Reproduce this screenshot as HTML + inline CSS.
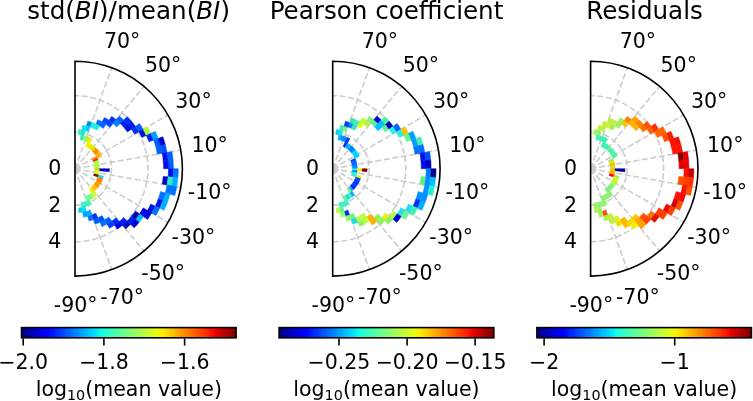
<!DOCTYPE html>
<html><head><meta charset="utf-8"><style>
html,body{margin:0;padding:0;background:#fff;width:753px;height:401px;overflow:hidden}
svg{display:block}
text{font-family:"DejaVu Sans","Liberation Sans",sans-serif;fill:#000}
</style></head><body>
<svg width="753" height="401" viewBox="0 0 753 401">
<defs><linearGradient id="jet" x1="0" x2="1" y1="0" y2="0">
<stop offset="0.0000" stop-color="#000080"/>
<stop offset="0.0312" stop-color="#0000a4"/>
<stop offset="0.0625" stop-color="#0000c8"/>
<stop offset="0.0938" stop-color="#0000ed"/>
<stop offset="0.1250" stop-color="#0001ff"/>
<stop offset="0.1562" stop-color="#0021ff"/>
<stop offset="0.1875" stop-color="#0041ff"/>
<stop offset="0.2188" stop-color="#0061ff"/>
<stop offset="0.2500" stop-color="#0081ff"/>
<stop offset="0.2812" stop-color="#00a1ff"/>
<stop offset="0.3125" stop-color="#00c1ff"/>
<stop offset="0.3438" stop-color="#00e1fb"/>
<stop offset="0.3750" stop-color="#16ffe1"/>
<stop offset="0.4062" stop-color="#30ffc7"/>
<stop offset="0.4375" stop-color="#49ffad"/>
<stop offset="0.4688" stop-color="#63ff94"/>
<stop offset="0.5000" stop-color="#7dff7a"/>
<stop offset="0.5312" stop-color="#97ff60"/>
<stop offset="0.5625" stop-color="#b1ff46"/>
<stop offset="0.5938" stop-color="#caff2c"/>
<stop offset="0.6250" stop-color="#e4ff13"/>
<stop offset="0.6562" stop-color="#feed00"/>
<stop offset="0.6875" stop-color="#ffd000"/>
<stop offset="0.7188" stop-color="#ffb200"/>
<stop offset="0.7500" stop-color="#ff9400"/>
<stop offset="0.7812" stop-color="#ff7700"/>
<stop offset="0.8125" stop-color="#ff5900"/>
<stop offset="0.8438" stop-color="#ff3b00"/>
<stop offset="0.8750" stop-color="#ff1e00"/>
<stop offset="0.9062" stop-color="#e80000"/>
<stop offset="0.9375" stop-color="#c40000"/>
<stop offset="0.9688" stop-color="#9f0000"/>
<stop offset="1.0000" stop-color="#800000"/>
</linearGradient></defs>
<g><path d="M75.00 205.20 A36.50 36.50 0 0 0 75.00 132.20" fill="none" stroke="#cccccc" stroke-width="1.6" stroke-dasharray="6.05 2.6"/><path d="M75.00 241.70 A73.00 73.00 0 0 0 75.00 95.70" fill="none" stroke="#cccccc" stroke-width="1.6" stroke-dasharray="6.05 2.6"/><line x1="75.00" y1="168.70" x2="111.73" y2="67.78" stroke="#cccccc" stroke-width="1.6" stroke-dasharray="6.05 2.6"/><line x1="75.00" y1="168.70" x2="144.04" y2="86.43" stroke="#cccccc" stroke-width="1.6" stroke-dasharray="6.05 2.6"/><line x1="75.00" y1="168.70" x2="168.01" y2="115.00" stroke="#cccccc" stroke-width="1.6" stroke-dasharray="6.05 2.6"/><line x1="75.00" y1="168.70" x2="180.77" y2="150.05" stroke="#cccccc" stroke-width="1.6" stroke-dasharray="6.05 2.6"/><line x1="75.00" y1="168.70" x2="180.77" y2="187.35" stroke="#cccccc" stroke-width="1.6" stroke-dasharray="6.05 2.6"/><line x1="75.00" y1="168.70" x2="168.01" y2="222.40" stroke="#cccccc" stroke-width="1.6" stroke-dasharray="6.05 2.6"/><line x1="75.00" y1="168.70" x2="144.04" y2="250.97" stroke="#cccccc" stroke-width="1.6" stroke-dasharray="6.05 2.6"/><line x1="75.00" y1="168.70" x2="111.73" y2="269.62" stroke="#cccccc" stroke-width="1.6" stroke-dasharray="6.05 2.6"/></g>
<g><path d="M80.98 134.78L81.83 129.94A39.36 39.36 0 0 0 78.43 129.49L78.00 134.39A34.44 34.44 0 0 1 80.98 134.78Z" fill="#40f0a0" stroke="#40f0a0" stroke-width="0.5"/><path d="M82.64 140.19L83.91 135.43A34.44 34.44 0 0 0 80.98 134.78L80.13 139.63A29.52 29.52 0 0 1 82.64 140.19Z" fill="#30e8c0" stroke="#30e8c0" stroke-width="0.5"/><path d="M83.91 135.43L85.19 130.68A39.36 39.36 0 0 0 81.83 129.94L80.98 134.78A34.44 34.44 0 0 1 83.91 135.43Z" fill="#20e0e0" stroke="#20e0e0" stroke-width="0.5"/><path d="M85.19 130.68L86.46 125.93A44.28 44.28 0 0 0 82.69 125.09L81.83 129.94A39.36 39.36 0 0 1 85.19 130.68Z" fill="#10e0f0" stroke="#10e0f0" stroke-width="0.5"/><path d="M85.10 140.96L86.78 136.34A34.44 34.44 0 0 0 83.91 135.43L82.64 140.19A29.52 29.52 0 0 1 85.10 140.96Z" fill="#70ff80" stroke="#70ff80" stroke-width="0.5"/><path d="M90.14 127.09L91.83 122.47A49.20 49.20 0 0 0 87.73 121.18L86.46 125.93A44.28 44.28 0 0 1 90.14 127.09Z" fill="#0080ff" stroke="#0080ff" stroke-width="0.5"/><path d="M88.46 131.71L90.14 127.09A44.28 44.28 0 0 0 86.46 125.93L85.19 130.68A39.36 39.36 0 0 1 88.46 131.71Z" fill="#10d0f0" stroke="#10d0f0" stroke-width="0.5"/><path d="M87.48 141.95L89.55 137.49A34.44 34.44 0 0 0 86.78 136.34L85.10 140.96A29.52 29.52 0 0 1 87.48 141.95Z" fill="#b0f040" stroke="#b0f040" stroke-width="0.5"/><path d="M93.71 128.57L95.79 124.11A49.20 49.20 0 0 0 91.83 122.47L90.14 127.09A44.28 44.28 0 0 1 93.71 128.57Z" fill="#20f0e0" stroke="#20f0e0" stroke-width="0.5"/><path d="M87.30 147.40L89.76 143.13A29.52 29.52 0 0 0 87.48 141.95L85.40 146.40A24.60 24.60 0 0 1 87.30 147.40Z" fill="#f0f000" stroke="#f0f000" stroke-width="0.5"/><path d="M89.76 143.13L92.22 138.87A34.44 34.44 0 0 0 89.55 137.49L87.48 141.95A29.52 29.52 0 0 1 89.76 143.13Z" fill="#f0f000" stroke="#f0f000" stroke-width="0.5"/><path d="M99.60 126.09L102.06 121.83A54.12 54.12 0 0 0 97.87 119.65L95.79 124.11A49.20 49.20 0 0 1 99.60 126.09Z" fill="#0070ff" stroke="#0070ff" stroke-width="0.5"/><path d="M97.14 130.35L99.60 126.09A49.20 49.20 0 0 0 95.79 124.11L93.71 128.57A44.28 44.28 0 0 1 97.14 130.35Z" fill="#20f0e0" stroke="#20f0e0" stroke-width="0.5"/><path d="M89.11 148.55L91.93 144.52A29.52 29.52 0 0 0 89.76 143.13L87.30 147.40A24.60 24.60 0 0 1 89.11 148.55Z" fill="#f0f000" stroke="#f0f000" stroke-width="0.5"/><path d="M106.04 124.37L108.86 120.34A59.04 59.04 0 0 0 104.52 117.57L102.06 121.83A54.12 54.12 0 0 1 106.04 124.37Z" fill="#0040ff" stroke="#0040ff" stroke-width="0.5"/><path d="M103.22 128.40L106.04 124.37A54.12 54.12 0 0 0 102.06 121.83L99.60 126.09A49.20 49.20 0 0 1 103.22 128.40Z" fill="#0060ff" stroke="#0060ff" stroke-width="0.5"/><path d="M90.81 149.86L93.98 146.09A29.52 29.52 0 0 0 91.93 144.52L89.11 148.55A24.60 24.60 0 0 1 90.81 149.86Z" fill="#e8f000" stroke="#e8f000" stroke-width="0.5"/><path d="M112.95 123.47L116.11 119.70A63.96 63.96 0 0 0 111.69 116.31L108.86 120.34A59.04 59.04 0 0 1 112.95 123.47Z" fill="#0030f0" stroke="#0030f0" stroke-width="0.5"/><path d="M109.79 127.24L112.95 123.47A59.04 59.04 0 0 0 108.86 120.34L106.04 124.37A54.12 54.12 0 0 1 109.79 127.24Z" fill="#0040ff" stroke="#0040ff" stroke-width="0.5"/><path d="M92.39 151.31L95.87 147.83A29.52 29.52 0 0 0 93.98 146.09L90.81 149.86A24.60 24.60 0 0 1 92.39 151.31Z" fill="#d0f000" stroke="#d0f000" stroke-width="0.5"/><path d="M116.75 126.95L120.23 123.47A63.96 63.96 0 0 0 116.11 119.70L112.95 123.47A59.04 59.04 0 0 1 116.75 126.95Z" fill="#0080ff" stroke="#0080ff" stroke-width="0.5"/><path d="M120.23 123.47L123.71 119.99A68.88 68.88 0 0 0 119.28 115.93L116.11 119.70A63.96 63.96 0 0 1 120.23 123.47Z" fill="#0060ff" stroke="#0060ff" stroke-width="0.5"/><path d="M93.84 152.89L97.61 149.72A29.52 29.52 0 0 0 95.87 147.83L92.39 151.31A24.60 24.60 0 0 1 93.84 152.89Z" fill="#ff9000" stroke="#ff9000" stroke-width="0.5"/><path d="M124.00 127.59L127.77 124.42A68.88 68.88 0 0 0 123.71 119.99L120.23 123.47A63.96 63.96 0 0 1 124.00 127.59Z" fill="#0020f0" stroke="#0020f0" stroke-width="0.5"/><path d="M127.77 124.42L131.53 121.26A73.80 73.80 0 0 0 127.18 116.52L123.71 119.99A68.88 68.88 0 0 1 127.77 124.42Z" fill="#0030f0" stroke="#0030f0" stroke-width="0.5"/><path d="M95.15 154.59L99.18 151.77A29.52 29.52 0 0 0 97.61 149.72L93.84 152.89A24.60 24.60 0 0 1 95.15 154.59Z" fill="#ff8000" stroke="#ff8000" stroke-width="0.5"/><path d="M127.39 132.01L131.42 129.19A68.88 68.88 0 0 0 127.77 124.42L124.00 127.59A63.96 63.96 0 0 1 127.39 132.01Z" fill="#0010e0" stroke="#0010e0" stroke-width="0.5"/><path d="M131.42 129.19L135.45 126.37A73.80 73.80 0 0 0 131.53 121.26L127.77 124.42A68.88 68.88 0 0 1 131.42 129.19Z" fill="#0020f0" stroke="#0020f0" stroke-width="0.5"/><path d="M96.30 156.40L100.57 153.94A29.52 29.52 0 0 0 99.18 151.77L95.15 154.59A24.60 24.60 0 0 1 96.30 156.40Z" fill="#ffb000" stroke="#ffb000" stroke-width="0.5"/><path d="M134.65 134.26L138.91 131.80A73.80 73.80 0 0 0 135.45 126.37L131.42 129.19A68.88 68.88 0 0 1 134.65 134.26Z" fill="#0030f0" stroke="#0030f0" stroke-width="0.5"/><path d="M138.91 131.80L143.17 129.34A78.72 78.72 0 0 0 139.48 123.55L135.45 126.37A73.80 73.80 0 0 1 138.91 131.80Z" fill="#0060ff" stroke="#0060ff" stroke-width="0.5"/><path d="M97.30 158.30L101.75 156.22A29.52 29.52 0 0 0 100.57 153.94L96.30 156.40A24.60 24.60 0 0 1 97.30 158.30Z" fill="#ffb000" stroke="#ffb000" stroke-width="0.5"/><path d="M92.84 160.38L97.30 158.30A24.60 24.60 0 0 0 96.30 156.40L92.04 158.86A19.68 19.68 0 0 1 92.84 160.38Z" fill="#ff8000" stroke="#ff8000" stroke-width="0.5"/><path d="M141.89 137.51L146.34 135.43A78.72 78.72 0 0 0 143.17 129.34L138.91 131.80A73.80 73.80 0 0 1 141.89 137.51Z" fill="#0010e0" stroke="#0010e0" stroke-width="0.5"/><path d="M146.34 135.43L150.80 133.35A83.64 83.64 0 0 0 147.43 126.88L143.17 129.34A78.72 78.72 0 0 1 146.34 135.43Z" fill="#b0ff30" stroke="#b0ff30" stroke-width="0.5"/><path d="M93.49 161.97L98.12 160.29A24.60 24.60 0 0 0 97.30 158.30L92.84 160.38A19.68 19.68 0 0 1 93.49 161.97Z" fill="#ff2000" stroke="#ff2000" stroke-width="0.5"/><path d="M148.97 141.78L153.60 140.09A83.64 83.64 0 0 0 150.80 133.35L146.34 135.43A78.72 78.72 0 0 1 148.97 141.78Z" fill="#0020f0" stroke="#0020f0" stroke-width="0.5"/><path d="M153.60 140.09L158.22 138.41A88.56 88.56 0 0 0 155.26 131.27L150.80 133.35A83.64 83.64 0 0 1 153.60 140.09Z" fill="#00a0ff" stroke="#00a0ff" stroke-width="0.5"/><path d="M94.01 163.61L98.76 162.33A24.60 24.60 0 0 0 98.12 160.29L93.49 161.97A19.68 19.68 0 0 1 94.01 163.61Z" fill="#a0ff50" stroke="#a0ff50" stroke-width="0.5"/><path d="M155.79 147.05L160.54 145.78A88.56 88.56 0 0 0 158.22 138.41L153.60 140.09A83.64 83.64 0 0 1 155.79 147.05Z" fill="#0060ff" stroke="#0060ff" stroke-width="0.5"/><path d="M160.54 145.78L165.29 144.51A93.48 93.48 0 0 0 162.84 136.73L158.22 138.41A88.56 88.56 0 0 1 160.54 145.78Z" fill="#0000d0" stroke="#0000d0" stroke-width="0.5"/><path d="M94.38 165.28L99.23 164.43A24.60 24.60 0 0 0 98.76 162.33L94.01 163.61A19.68 19.68 0 0 1 94.38 165.28Z" fill="#a0ff50" stroke="#a0ff50" stroke-width="0.5"/><path d="M162.21 153.32L167.06 152.47A93.48 93.48 0 0 0 165.29 144.51L160.54 145.78A88.56 88.56 0 0 1 162.21 153.32Z" fill="#0050ff" stroke="#0050ff" stroke-width="0.5"/><path d="M157.37 154.18L162.21 153.32A88.56 88.56 0 0 0 160.54 145.78L155.79 147.05A83.64 83.64 0 0 1 157.37 154.18Z" fill="#0060ff" stroke="#0060ff" stroke-width="0.5"/><path d="M94.61 166.98L99.51 166.56A24.60 24.60 0 0 0 99.23 164.43L94.38 165.28A19.68 19.68 0 0 1 94.61 166.98Z" fill="#a8ff48" stroke="#a8ff48" stroke-width="0.5"/><path d="M163.22 160.98L168.12 160.55A93.48 93.48 0 0 0 167.06 152.47L162.21 153.32A88.56 88.56 0 0 1 163.22 160.98Z" fill="#0010e8" stroke="#0010e8" stroke-width="0.5"/><path d="M168.12 160.55L173.03 160.12A98.40 98.40 0 0 0 171.91 151.61L167.06 152.47A93.48 93.48 0 0 1 168.12 160.55Z" fill="#0060ff" stroke="#0060ff" stroke-width="0.5"/><path d="M94.68 168.70L99.60 168.70A24.60 24.60 0 0 0 99.51 166.56L94.61 166.98A19.68 19.68 0 0 1 94.68 168.70Z" fill="#a8ff48" stroke="#a8ff48" stroke-width="0.5"/><path d="M168.48 168.70L173.40 168.70A98.40 98.40 0 0 0 173.03 160.12L168.12 160.55A93.48 93.48 0 0 1 168.48 168.70Z" fill="#0060ff" stroke="#0060ff" stroke-width="0.5"/><path d="M163.56 168.70L168.48 168.70A93.48 93.48 0 0 0 168.12 160.55L163.22 160.98A88.56 88.56 0 0 1 163.56 168.70Z" fill="#0010e8" stroke="#0010e8" stroke-width="0.5"/><path d="M94.61 170.42L99.51 170.84A24.60 24.60 0 0 0 99.60 168.70L94.68 168.70A19.68 19.68 0 0 1 94.61 170.42Z" fill="#ffc000" stroke="#ffc000" stroke-width="0.5"/><path d="M99.51 170.84L104.41 171.27A29.52 29.52 0 0 0 104.52 168.70L99.60 168.70A24.60 24.60 0 0 1 99.51 170.84Z" fill="#0000c8" stroke="#0000c8" stroke-width="0.5"/><path d="M104.41 171.27L109.31 171.70A34.44 34.44 0 0 0 109.44 168.70L104.52 168.70A29.52 29.52 0 0 1 104.41 171.27Z" fill="#0000c8" stroke="#0000c8" stroke-width="0.5"/><path d="M168.12 176.85L173.03 177.28A98.40 98.40 0 0 0 173.40 168.70L168.48 168.70A93.48 93.48 0 0 1 168.12 176.85Z" fill="#0010e8" stroke="#0010e8" stroke-width="0.5"/><path d="M173.03 177.28L177.93 177.70A103.32 103.32 0 0 0 178.32 168.70L173.40 168.70A98.40 98.40 0 0 1 173.03 177.28Z" fill="#0070ff" stroke="#0070ff" stroke-width="0.5"/><path d="M94.38 172.12L99.23 172.97A24.60 24.60 0 0 0 99.51 170.84L94.61 170.42A19.68 19.68 0 0 1 94.38 172.12Z" fill="#d0ff20" stroke="#d0ff20" stroke-width="0.5"/><path d="M162.21 184.08L167.06 184.93A93.48 93.48 0 0 0 168.12 176.85L163.22 176.42A88.56 88.56 0 0 1 162.21 184.08Z" fill="#0000d0" stroke="#0000d0" stroke-width="0.5"/><path d="M167.06 184.93L171.91 185.79A98.40 98.40 0 0 0 173.03 177.28L168.12 176.85A93.48 93.48 0 0 1 167.06 184.93Z" fill="#30f0c0" stroke="#30f0c0" stroke-width="0.5"/><path d="M171.91 185.79L176.75 186.64A103.32 103.32 0 0 0 177.93 177.70L173.03 177.28A98.40 98.40 0 0 1 171.91 185.79Z" fill="#00b0ff" stroke="#00b0ff" stroke-width="0.5"/><path d="M94.01 173.79L98.76 175.07A24.60 24.60 0 0 0 99.23 172.97L94.38 172.12A19.68 19.68 0 0 1 94.01 173.79Z" fill="#d0ff20" stroke="#d0ff20" stroke-width="0.5"/><path d="M165.29 192.89L170.05 194.17A98.40 98.40 0 0 0 171.91 185.79L167.06 184.93A93.48 93.48 0 0 1 165.29 192.89Z" fill="#0070ff" stroke="#0070ff" stroke-width="0.5"/><path d="M170.05 194.17L174.80 195.44A103.32 103.32 0 0 0 176.75 186.64L171.91 185.79A98.40 98.40 0 0 1 170.05 194.17Z" fill="#0070ff" stroke="#0070ff" stroke-width="0.5"/><path d="M93.49 175.43L98.12 177.11A24.60 24.60 0 0 0 98.76 175.07L94.01 173.79A19.68 19.68 0 0 1 93.49 175.43Z" fill="#800000" stroke="#800000" stroke-width="0.5"/><path d="M98.12 177.11L102.74 178.80A29.52 29.52 0 0 0 103.51 176.34L98.76 175.07A24.60 24.60 0 0 1 98.12 177.11Z" fill="#00e0ff" stroke="#00e0ff" stroke-width="0.5"/><path d="M162.84 200.67L167.47 202.35A98.40 98.40 0 0 0 170.05 194.17L165.29 192.89A93.48 93.48 0 0 1 162.84 200.67Z" fill="#00b0ff" stroke="#00b0ff" stroke-width="0.5"/><path d="M158.22 198.99L162.84 200.67A93.48 93.48 0 0 0 165.29 192.89L160.54 191.62A88.56 88.56 0 0 1 158.22 198.99Z" fill="#0070ff" stroke="#0070ff" stroke-width="0.5"/><path d="M97.30 179.10L101.75 181.18A29.52 29.52 0 0 0 102.74 178.80L98.12 177.11A24.60 24.60 0 0 1 97.30 179.10Z" fill="#ff8000" stroke="#ff8000" stroke-width="0.5"/><path d="M155.26 206.13L159.72 208.21A93.48 93.48 0 0 0 162.84 200.67L158.22 198.99A88.56 88.56 0 0 1 155.26 206.13Z" fill="#0010e8" stroke="#0010e8" stroke-width="0.5"/><path d="M159.72 208.21L164.18 210.29A98.40 98.40 0 0 0 167.47 202.35L162.84 200.67A93.48 93.48 0 0 1 159.72 208.21Z" fill="#00b0ff" stroke="#00b0ff" stroke-width="0.5"/><path d="M96.30 181.00L100.57 183.46A29.52 29.52 0 0 0 101.75 181.18L97.30 179.10A24.60 24.60 0 0 1 96.30 181.00Z" fill="#ff8000" stroke="#ff8000" stroke-width="0.5"/><path d="M147.43 210.52L151.70 212.98A88.56 88.56 0 0 0 155.26 206.13L150.80 204.05A83.64 83.64 0 0 1 147.43 210.52Z" fill="#0010e0" stroke="#0010e0" stroke-width="0.5"/><path d="M151.70 212.98L155.96 215.44A93.48 93.48 0 0 0 159.72 208.21L155.26 206.13A88.56 88.56 0 0 1 151.70 212.98Z" fill="#0070ff" stroke="#0070ff" stroke-width="0.5"/><path d="M95.15 182.81L99.18 185.63A29.52 29.52 0 0 0 100.57 183.46L96.30 181.00A24.60 24.60 0 0 1 95.15 182.81Z" fill="#ffa000" stroke="#ffa000" stroke-width="0.5"/><path d="M139.48 213.85L143.51 216.67A83.64 83.64 0 0 0 147.43 210.52L143.17 208.06A78.72 78.72 0 0 1 139.48 213.85Z" fill="#0000f0" stroke="#0000f0" stroke-width="0.5"/><path d="M143.51 216.67L147.54 219.50A88.56 88.56 0 0 0 151.70 212.98L147.43 210.52A83.64 83.64 0 0 1 143.51 216.67Z" fill="#0008d8" stroke="#0008d8" stroke-width="0.5"/><path d="M93.84 184.51L97.61 187.68A29.52 29.52 0 0 0 99.18 185.63L95.15 182.81A24.60 24.60 0 0 1 93.84 184.51Z" fill="#ff9000" stroke="#ff9000" stroke-width="0.5"/><path d="M135.30 219.30L139.07 222.46A83.64 83.64 0 0 0 143.51 216.67L139.48 213.85A78.72 78.72 0 0 1 135.30 219.30Z" fill="#00c0ff" stroke="#00c0ff" stroke-width="0.5"/><path d="M131.53 216.14L135.30 219.30A78.72 78.72 0 0 0 139.48 213.85L135.45 211.03A73.80 73.80 0 0 1 131.53 216.14Z" fill="#0008b0" stroke="#0008b0" stroke-width="0.5"/><path d="M92.39 186.09L95.87 189.57A29.52 29.52 0 0 0 97.61 187.68L93.84 184.51A24.60 24.60 0 0 1 92.39 186.09Z" fill="#ffc000" stroke="#ffc000" stroke-width="0.5"/><path d="M127.18 220.88L130.66 224.36A78.72 78.72 0 0 0 135.30 219.30L131.53 216.14A73.80 73.80 0 0 1 127.18 220.88Z" fill="#0020f0" stroke="#0020f0" stroke-width="0.5"/><path d="M130.66 224.36L134.14 227.84A83.64 83.64 0 0 0 139.07 222.46L135.30 219.30A78.72 78.72 0 0 1 130.66 224.36Z" fill="#0000d0" stroke="#0000d0" stroke-width="0.5"/><path d="M90.81 187.54L93.98 191.31A29.52 29.52 0 0 0 95.87 189.57L92.39 186.09A24.60 24.60 0 0 1 90.81 187.54Z" fill="#ffc000" stroke="#ffc000" stroke-width="0.5"/><path d="M119.28 221.47L122.44 225.23A73.80 73.80 0 0 0 127.18 220.88L123.71 217.41A68.88 68.88 0 0 1 119.28 221.47Z" fill="#0020f0" stroke="#0020f0" stroke-width="0.5"/><path d="M122.44 225.23L125.60 229.00A78.72 78.72 0 0 0 130.66 224.36L127.18 220.88A73.80 73.80 0 0 1 122.44 225.23Z" fill="#0010c0" stroke="#0010c0" stroke-width="0.5"/><path d="M89.11 188.85L91.93 192.88A29.52 29.52 0 0 0 93.98 191.31L90.81 187.54A24.60 24.60 0 0 1 89.11 188.85Z" fill="#f0f000" stroke="#f0f000" stroke-width="0.5"/><path d="M91.93 192.88L94.75 196.91A34.44 34.44 0 0 0 97.14 195.08L93.98 191.31A29.52 29.52 0 0 1 91.93 192.88Z" fill="#d0ff20" stroke="#d0ff20" stroke-width="0.5"/><path d="M111.69 221.09L114.51 225.12A68.88 68.88 0 0 0 119.28 221.47L116.11 217.70A63.96 63.96 0 0 1 111.69 221.09Z" fill="#0030f0" stroke="#0030f0" stroke-width="0.5"/><path d="M114.51 225.12L117.33 229.15A73.80 73.80 0 0 0 122.44 225.23L119.28 221.47A68.88 68.88 0 0 1 114.51 225.12Z" fill="#0000f0" stroke="#0000f0" stroke-width="0.5"/><path d="M89.76 194.27L92.22 198.53A34.44 34.44 0 0 0 94.75 196.91L91.93 192.88A29.52 29.52 0 0 1 89.76 194.27Z" fill="#a0ff50" stroke="#a0ff50" stroke-width="0.5"/><path d="M104.52 219.83L106.98 224.09A63.96 63.96 0 0 0 111.69 221.09L108.86 217.06A59.04 59.04 0 0 1 104.52 219.83Z" fill="#0060ff" stroke="#0060ff" stroke-width="0.5"/><path d="M106.98 224.09L109.44 228.35A68.88 68.88 0 0 0 114.51 225.12L111.69 221.09A63.96 63.96 0 0 1 106.98 224.09Z" fill="#0040ff" stroke="#0040ff" stroke-width="0.5"/><path d="M87.48 195.45L89.55 199.91A34.44 34.44 0 0 0 92.22 198.53L89.76 194.27A29.52 29.52 0 0 1 87.48 195.45Z" fill="#70ff80" stroke="#70ff80" stroke-width="0.5"/><path d="M97.87 217.75L99.95 222.21A59.04 59.04 0 0 0 104.52 219.83L102.06 215.57A54.12 54.12 0 0 1 97.87 217.75Z" fill="#0050ff" stroke="#0050ff" stroke-width="0.5"/><path d="M99.95 222.21L102.03 226.67A63.96 63.96 0 0 0 106.98 224.09L104.52 219.83A59.04 59.04 0 0 1 99.95 222.21Z" fill="#0070ff" stroke="#0070ff" stroke-width="0.5"/><path d="M85.10 196.44L86.78 201.06A34.44 34.44 0 0 0 89.55 199.91L87.48 195.45A29.52 29.52 0 0 1 85.10 196.44Z" fill="#70ff80" stroke="#70ff80" stroke-width="0.5"/><path d="M86.78 201.06L88.46 205.69A39.36 39.36 0 0 0 91.63 204.37L89.55 199.91A34.44 34.44 0 0 1 86.78 201.06Z" fill="#50f0a0" stroke="#50f0a0" stroke-width="0.5"/><path d="M91.83 214.93L93.51 219.56A54.12 54.12 0 0 0 97.87 217.75L95.79 213.29A49.20 49.20 0 0 1 91.83 214.93Z" fill="#0030f0" stroke="#0030f0" stroke-width="0.5"/><path d="M93.51 219.56L95.19 224.18A59.04 59.04 0 0 0 99.95 222.21L97.87 217.75A54.12 54.12 0 0 1 93.51 219.56Z" fill="#0060ff" stroke="#0060ff" stroke-width="0.5"/><path d="M83.91 201.97L85.19 206.72A39.36 39.36 0 0 0 88.46 205.69L86.78 201.06A34.44 34.44 0 0 1 83.91 201.97Z" fill="#40f0c0" stroke="#40f0c0" stroke-width="0.5"/><path d="M86.46 211.47L87.73 216.22A49.20 49.20 0 0 0 91.83 214.93L90.14 210.31A44.28 44.28 0 0 1 86.46 211.47Z" fill="#00b0ff" stroke="#00b0ff" stroke-width="0.5"/><path d="M87.73 216.22L89.01 220.98A54.12 54.12 0 0 0 93.51 219.56L91.83 214.93A49.20 49.20 0 0 1 87.73 216.22Z" fill="#0070ff" stroke="#0070ff" stroke-width="0.5"/><path d="M80.98 202.62L81.83 207.46A39.36 39.36 0 0 0 85.19 206.72L83.91 201.97A34.44 34.44 0 0 1 80.98 202.62Z" fill="#40f0c0" stroke="#40f0c0" stroke-width="0.5"/><path d="M81.83 207.46L82.69 212.31A44.28 44.28 0 0 0 86.46 211.47L85.19 206.72A39.36 39.36 0 0 1 81.83 207.46Z" fill="#00e0ff" stroke="#00e0ff" stroke-width="0.5"/><path d="M82.69 212.31L83.54 217.15A49.20 49.20 0 0 0 87.73 216.22L86.46 211.47A44.28 44.28 0 0 1 82.69 212.31Z" fill="#00a0ff" stroke="#00a0ff" stroke-width="0.5"/><path d="M78.43 207.91L78.86 212.81A44.28 44.28 0 0 0 82.69 212.31L81.83 207.46A39.36 39.36 0 0 1 78.43 207.91Z" fill="#10d0f0" stroke="#10d0f0" stroke-width="0.5"/></g>
<path d="M75.00 61.30 A107.40 107.40 0 0 1 75.00 276.10 Z" fill="none" stroke="#000" stroke-width="1.6"/>
<text x="122.21" y="47.93" text-anchor="middle" font-size="20.5">70°</text>
<text x="163.12" y="71.55" text-anchor="middle" font-size="20.5">50°</text>
<text x="193.48" y="107.73" text-anchor="middle" font-size="20.5">30°</text>
<text x="209.63" y="152.11" text-anchor="middle" font-size="20.5">10°</text>
<text x="209.63" y="199.35" text-anchor="middle" font-size="20.5">-10°</text>
<text x="193.48" y="243.73" text-anchor="middle" font-size="20.5">-30°</text>
<text x="163.12" y="279.91" text-anchor="middle" font-size="20.5">-50°</text>
<text x="122.21" y="303.53" text-anchor="middle" font-size="20.5">-70°</text>
<text x="75.70" y="311.73" text-anchor="middle" font-size="20.5">-90°</text>
<text x="54.80" y="175.10" text-anchor="middle" font-size="20.5">0</text>
<text x="54.80" y="211.60" text-anchor="middle" font-size="20.5">2</text>
<text x="54.80" y="248.10" text-anchor="middle" font-size="20.5">4</text>
<text x="128.60" y="18.5" text-anchor="middle" font-size="24.6">std(<tspan font-style="oblique">BI</tspan>)/mean(<tspan font-style="oblique">BI</tspan>)</text>
<g><path d="M332.70 205.20 A36.50 36.50 0 0 0 332.70 132.20" fill="none" stroke="#cccccc" stroke-width="1.6" stroke-dasharray="6.05 2.6"/><path d="M332.70 241.70 A73.00 73.00 0 0 0 332.70 95.70" fill="none" stroke="#cccccc" stroke-width="1.6" stroke-dasharray="6.05 2.6"/><line x1="332.70" y1="168.70" x2="369.43" y2="67.78" stroke="#cccccc" stroke-width="1.6" stroke-dasharray="6.05 2.6"/><line x1="332.70" y1="168.70" x2="401.74" y2="86.43" stroke="#cccccc" stroke-width="1.6" stroke-dasharray="6.05 2.6"/><line x1="332.70" y1="168.70" x2="425.71" y2="115.00" stroke="#cccccc" stroke-width="1.6" stroke-dasharray="6.05 2.6"/><line x1="332.70" y1="168.70" x2="438.47" y2="150.05" stroke="#cccccc" stroke-width="1.6" stroke-dasharray="6.05 2.6"/><line x1="332.70" y1="168.70" x2="438.47" y2="187.35" stroke="#cccccc" stroke-width="1.6" stroke-dasharray="6.05 2.6"/><line x1="332.70" y1="168.70" x2="425.71" y2="222.40" stroke="#cccccc" stroke-width="1.6" stroke-dasharray="6.05 2.6"/><line x1="332.70" y1="168.70" x2="401.74" y2="250.97" stroke="#cccccc" stroke-width="1.6" stroke-dasharray="6.05 2.6"/><line x1="332.70" y1="168.70" x2="369.43" y2="269.62" stroke="#cccccc" stroke-width="1.6" stroke-dasharray="6.05 2.6"/></g>
<g><path d="M338.68 134.78L339.53 129.94A39.36 39.36 0 0 0 336.13 129.49L335.70 134.39A34.44 34.44 0 0 1 338.68 134.78Z" fill="#10d0f0" stroke="#10d0f0" stroke-width="0.5"/><path d="M340.34 140.19L341.61 135.43A34.44 34.44 0 0 0 338.68 134.78L337.83 139.63A29.52 29.52 0 0 1 340.34 140.19Z" fill="#10b0f8" stroke="#10b0f8" stroke-width="0.5"/><path d="M341.61 135.43L342.89 130.68A39.36 39.36 0 0 0 339.53 129.94L338.68 134.78A34.44 34.44 0 0 1 341.61 135.43Z" fill="#20e0e0" stroke="#20e0e0" stroke-width="0.5"/><path d="M342.89 130.68L344.16 125.93A44.28 44.28 0 0 0 340.39 125.09L339.53 129.94A39.36 39.36 0 0 1 342.89 130.68Z" fill="#30f0c0" stroke="#30f0c0" stroke-width="0.5"/><path d="M342.80 140.96L344.48 136.34A34.44 34.44 0 0 0 341.61 135.43L340.34 140.19A29.52 29.52 0 0 1 342.80 140.96Z" fill="#0090ff" stroke="#0090ff" stroke-width="0.5"/><path d="M346.16 131.71L347.84 127.09A44.28 44.28 0 0 0 344.16 125.93L342.89 130.68A39.36 39.36 0 0 1 346.16 131.71Z" fill="#80f080" stroke="#80f080" stroke-width="0.5"/><path d="M347.84 127.09L349.53 122.47A49.20 49.20 0 0 0 345.43 121.18L344.16 125.93A44.28 44.28 0 0 1 347.84 127.09Z" fill="#0040f0" stroke="#0040f0" stroke-width="0.5"/><path d="M345.18 141.95L347.25 137.49A34.44 34.44 0 0 0 344.48 136.34L342.80 140.96A29.52 29.52 0 0 1 345.18 141.95Z" fill="#0090ff" stroke="#0090ff" stroke-width="0.5"/><path d="M351.41 128.57L353.49 124.11A49.20 49.20 0 0 0 349.53 122.47L347.84 127.09A44.28 44.28 0 0 1 351.41 128.57Z" fill="#0080ff" stroke="#0080ff" stroke-width="0.5"/><path d="M353.49 124.11L355.57 119.65A54.12 54.12 0 0 0 351.21 117.84L349.53 122.47A49.20 49.20 0 0 1 353.49 124.11Z" fill="#40e0b0" stroke="#40e0b0" stroke-width="0.5"/><path d="M345.00 147.40L347.46 143.13A29.52 29.52 0 0 0 345.18 141.95L343.10 146.40A24.60 24.60 0 0 1 345.00 147.40Z" fill="#0020f0" stroke="#0020f0" stroke-width="0.5"/><path d="M347.46 143.13L349.92 138.87A34.44 34.44 0 0 0 347.25 137.49L345.18 141.95A29.52 29.52 0 0 1 347.46 143.13Z" fill="#0030f0" stroke="#0030f0" stroke-width="0.5"/><path d="M354.84 130.35L357.30 126.09A49.20 49.20 0 0 0 353.49 124.11L351.41 128.57A44.28 44.28 0 0 1 354.84 130.35Z" fill="#40e0b0" stroke="#40e0b0" stroke-width="0.5"/><path d="M357.30 126.09L359.76 121.83A54.12 54.12 0 0 0 355.57 119.65L353.49 124.11A49.20 49.20 0 0 1 357.30 126.09Z" fill="#30f0c0" stroke="#30f0c0" stroke-width="0.5"/><path d="M346.81 148.55L349.63 144.52A29.52 29.52 0 0 0 347.46 143.13L345.00 147.40A24.60 24.60 0 0 1 346.81 148.55Z" fill="#00b0ff" stroke="#00b0ff" stroke-width="0.5"/><path d="M360.92 128.40L363.74 124.37A54.12 54.12 0 0 0 359.76 121.83L357.30 126.09A49.20 49.20 0 0 1 360.92 128.40Z" fill="#e0ff20" stroke="#e0ff20" stroke-width="0.5"/><path d="M363.74 124.37L366.56 120.34A59.04 59.04 0 0 0 362.22 117.57L359.76 121.83A54.12 54.12 0 0 1 363.74 124.37Z" fill="#c0ff30" stroke="#c0ff30" stroke-width="0.5"/><path d="M348.51 149.86L351.68 146.09A29.52 29.52 0 0 0 349.63 144.52L346.81 148.55A24.60 24.60 0 0 1 348.51 149.86Z" fill="#00b0ff" stroke="#00b0ff" stroke-width="0.5"/><path d="M367.49 127.24L370.65 123.47A59.04 59.04 0 0 0 366.56 120.34L363.74 124.37A54.12 54.12 0 0 1 367.49 127.24Z" fill="#c0f040" stroke="#c0f040" stroke-width="0.5"/><path d="M370.65 123.47L373.81 119.70A63.96 63.96 0 0 0 369.39 116.31L366.56 120.34A59.04 59.04 0 0 1 370.65 123.47Z" fill="#80f080" stroke="#80f080" stroke-width="0.5"/><path d="M350.09 151.31L353.57 147.83A29.52 29.52 0 0 0 351.68 146.09L348.51 149.86A24.60 24.60 0 0 1 350.09 151.31Z" fill="#0080ff" stroke="#0080ff" stroke-width="0.5"/><path d="M374.45 126.95L377.93 123.47A63.96 63.96 0 0 0 373.81 119.70L370.65 123.47A59.04 59.04 0 0 1 374.45 126.95Z" fill="#60f0a0" stroke="#60f0a0" stroke-width="0.5"/><path d="M377.93 123.47L381.41 119.99A68.88 68.88 0 0 0 376.98 115.93L373.81 119.70A63.96 63.96 0 0 1 377.93 123.47Z" fill="#0010d0" stroke="#0010d0" stroke-width="0.5"/><path d="M351.54 152.89L355.31 149.72A29.52 29.52 0 0 0 353.57 147.83L350.09 151.31A24.60 24.60 0 0 1 351.54 152.89Z" fill="#0080ff" stroke="#0080ff" stroke-width="0.5"/><path d="M377.93 130.75L381.70 127.59A63.96 63.96 0 0 0 377.93 123.47L374.45 126.95A59.04 59.04 0 0 1 377.93 130.75Z" fill="#00c0ff" stroke="#00c0ff" stroke-width="0.5"/><path d="M381.70 127.59L385.47 124.42A68.88 68.88 0 0 0 381.41 119.99L377.93 123.47A63.96 63.96 0 0 1 381.70 127.59Z" fill="#00c0ff" stroke="#00c0ff" stroke-width="0.5"/><path d="M385.47 124.42L389.23 121.26A73.80 73.80 0 0 0 384.88 116.52L381.41 119.99A68.88 68.88 0 0 1 385.47 124.42Z" fill="#50f0a0" stroke="#50f0a0" stroke-width="0.5"/><path d="M352.85 154.59L356.88 151.77A29.52 29.52 0 0 0 355.31 149.72L351.54 152.89A24.60 24.60 0 0 1 352.85 154.59Z" fill="#00d0ff" stroke="#00d0ff" stroke-width="0.5"/><path d="M385.09 132.01L389.12 129.19A68.88 68.88 0 0 0 385.47 124.42L381.70 127.59A63.96 63.96 0 0 1 385.09 132.01Z" fill="#60f090" stroke="#60f090" stroke-width="0.5"/><path d="M389.12 129.19L393.15 126.37A73.80 73.80 0 0 0 389.23 121.26L385.47 124.42A68.88 68.88 0 0 1 389.12 129.19Z" fill="#0000c0" stroke="#0000c0" stroke-width="0.5"/><path d="M354.00 156.40L358.27 153.94A29.52 29.52 0 0 0 356.88 151.77L352.85 154.59A24.60 24.60 0 0 1 354.00 156.40Z" fill="#00d0ff" stroke="#00d0ff" stroke-width="0.5"/><path d="M392.35 134.26L396.61 131.80A73.80 73.80 0 0 0 393.15 126.37L389.12 129.19A68.88 68.88 0 0 1 392.35 134.26Z" fill="#20f0e0" stroke="#20f0e0" stroke-width="0.5"/><path d="M396.61 131.80L400.87 129.34A78.72 78.72 0 0 0 397.18 123.55L393.15 126.37A73.80 73.80 0 0 1 396.61 131.80Z" fill="#0060ff" stroke="#0060ff" stroke-width="0.5"/><path d="M355.00 158.30L359.45 156.22A29.52 29.52 0 0 0 358.27 153.94L354.00 156.40A24.60 24.60 0 0 1 355.00 158.30Z" fill="#00d0ff" stroke="#00d0ff" stroke-width="0.5"/><path d="M399.59 137.51L404.04 135.43A78.72 78.72 0 0 0 400.87 129.34L396.61 131.80A73.80 73.80 0 0 1 399.59 137.51Z" fill="#20f0e0" stroke="#20f0e0" stroke-width="0.5"/><path d="M404.04 135.43L408.50 133.35A83.64 83.64 0 0 0 405.13 126.88L400.87 129.34A78.72 78.72 0 0 1 404.04 135.43Z" fill="#ffc000" stroke="#ffc000" stroke-width="0.5"/><path d="M351.19 161.97L355.82 160.29A24.60 24.60 0 0 0 355.00 158.30L350.54 160.38A19.68 19.68 0 0 1 351.19 161.97Z" fill="#0040ff" stroke="#0040ff" stroke-width="0.5"/><path d="M406.67 141.78L411.30 140.09A83.64 83.64 0 0 0 408.50 133.35L404.04 135.43A78.72 78.72 0 0 1 406.67 141.78Z" fill="#70f090" stroke="#70f090" stroke-width="0.5"/><path d="M411.30 140.09L415.92 138.41A88.56 88.56 0 0 0 412.96 131.27L408.50 133.35A83.64 83.64 0 0 1 411.30 140.09Z" fill="#00a0ff" stroke="#00a0ff" stroke-width="0.5"/><path d="M351.71 163.61L356.46 162.33A24.60 24.60 0 0 0 355.82 160.29L351.19 161.97A19.68 19.68 0 0 1 351.71 163.61Z" fill="#0060ff" stroke="#0060ff" stroke-width="0.5"/><path d="M413.49 147.05L418.24 145.78A88.56 88.56 0 0 0 415.92 138.41L411.30 140.09A83.64 83.64 0 0 1 413.49 147.05Z" fill="#00a0ff" stroke="#00a0ff" stroke-width="0.5"/><path d="M418.24 145.78L422.99 144.51A93.48 93.48 0 0 0 420.54 136.73L415.92 138.41A88.56 88.56 0 0 1 418.24 145.78Z" fill="#40f0b0" stroke="#40f0b0" stroke-width="0.5"/><path d="M352.08 165.28L356.93 164.43A24.60 24.60 0 0 0 356.46 162.33L351.71 163.61A19.68 19.68 0 0 1 352.08 165.28Z" fill="#0060ff" stroke="#0060ff" stroke-width="0.5"/><path d="M415.07 154.18L419.91 153.32A88.56 88.56 0 0 0 418.24 145.78L413.49 147.05A83.64 83.64 0 0 1 415.07 154.18Z" fill="#0070ff" stroke="#0070ff" stroke-width="0.5"/><path d="M419.91 153.32L424.76 152.47A93.48 93.48 0 0 0 422.99 144.51L418.24 145.78A88.56 88.56 0 0 1 419.91 153.32Z" fill="#0070ff" stroke="#0070ff" stroke-width="0.5"/><path d="M352.31 166.98L357.21 166.56A24.60 24.60 0 0 0 356.93 164.43L352.08 165.28A19.68 19.68 0 0 1 352.31 166.98Z" fill="#0080ff" stroke="#0080ff" stroke-width="0.5"/><path d="M420.92 160.98L425.82 160.55A93.48 93.48 0 0 0 424.76 152.47L419.91 153.32A88.56 88.56 0 0 1 420.92 160.98Z" fill="#0010e8" stroke="#0010e8" stroke-width="0.5"/><path d="M425.82 160.55L430.73 160.12A98.40 98.40 0 0 0 429.61 151.61L424.76 152.47A93.48 93.48 0 0 1 425.82 160.55Z" fill="#0050ff" stroke="#0050ff" stroke-width="0.5"/><path d="M352.38 168.70L357.30 168.70A24.60 24.60 0 0 0 357.21 166.56L352.31 166.98A19.68 19.68 0 0 1 352.38 168.70Z" fill="#0080ff" stroke="#0080ff" stroke-width="0.5"/><path d="M421.26 168.70L426.18 168.70A93.48 93.48 0 0 0 425.82 160.55L420.92 160.98A88.56 88.56 0 0 1 421.26 168.70Z" fill="#0010e8" stroke="#0010e8" stroke-width="0.5"/><path d="M426.18 168.70L431.10 168.70A98.40 98.40 0 0 0 430.73 160.12L425.82 160.55A93.48 93.48 0 0 1 426.18 168.70Z" fill="#0000c8" stroke="#0000c8" stroke-width="0.5"/><path d="M352.31 170.42L357.21 170.84A24.60 24.60 0 0 0 357.30 168.70L352.38 168.70A19.68 19.68 0 0 1 352.31 170.42Z" fill="#20f0e0" stroke="#20f0e0" stroke-width="0.5"/><path d="M357.21 170.84L362.11 171.27A29.52 29.52 0 0 0 362.22 168.70L357.30 168.70A24.60 24.60 0 0 1 357.21 170.84Z" fill="#f0f000" stroke="#f0f000" stroke-width="0.5"/><path d="M362.11 171.27L367.01 171.70A34.44 34.44 0 0 0 367.14 168.70L362.22 168.70A29.52 29.52 0 0 1 362.11 171.27Z" fill="#800000" stroke="#800000" stroke-width="0.5"/><path d="M425.82 176.85L430.73 177.28A98.40 98.40 0 0 0 431.10 168.70L426.18 168.70A93.48 93.48 0 0 1 425.82 176.85Z" fill="#0080ff" stroke="#0080ff" stroke-width="0.5"/><path d="M430.73 177.28L435.63 177.70A103.32 103.32 0 0 0 436.02 168.70L431.10 168.70A98.40 98.40 0 0 1 430.73 177.28Z" fill="#000090" stroke="#000090" stroke-width="0.5"/><path d="M352.08 172.12L356.93 172.97A24.60 24.60 0 0 0 357.21 170.84L352.31 170.42A19.68 19.68 0 0 1 352.08 172.12Z" fill="#0080ff" stroke="#0080ff" stroke-width="0.5"/><path d="M419.91 184.08L424.76 184.93A93.48 93.48 0 0 0 425.82 176.85L420.92 176.42A88.56 88.56 0 0 1 419.91 184.08Z" fill="#60f080" stroke="#60f080" stroke-width="0.5"/><path d="M424.76 184.93L429.61 185.79A98.40 98.40 0 0 0 430.73 177.28L425.82 176.85A93.48 93.48 0 0 1 424.76 184.93Z" fill="#0090ff" stroke="#0090ff" stroke-width="0.5"/><path d="M429.61 185.79L434.45 186.64A103.32 103.32 0 0 0 435.63 177.70L430.73 177.28A98.40 98.40 0 0 1 429.61 185.79Z" fill="#00c0ff" stroke="#00c0ff" stroke-width="0.5"/><path d="M351.71 173.79L356.46 175.07A24.60 24.60 0 0 0 356.93 172.97L352.08 172.12A19.68 19.68 0 0 1 351.71 173.79Z" fill="#30f0d0" stroke="#30f0d0" stroke-width="0.5"/><path d="M422.99 192.89L427.75 194.17A98.40 98.40 0 0 0 429.61 185.79L424.76 184.93A93.48 93.48 0 0 1 422.99 192.89Z" fill="#0090ff" stroke="#0090ff" stroke-width="0.5"/><path d="M427.75 194.17L432.50 195.44A103.32 103.32 0 0 0 434.45 186.64L429.61 185.79A98.40 98.40 0 0 1 427.75 194.17Z" fill="#20f0d0" stroke="#20f0d0" stroke-width="0.5"/><path d="M351.19 175.43L355.82 177.11A24.60 24.60 0 0 0 356.46 175.07L351.71 173.79A19.68 19.68 0 0 1 351.19 175.43Z" fill="#30f0d0" stroke="#30f0d0" stroke-width="0.5"/><path d="M355.82 177.11L360.44 178.80A29.52 29.52 0 0 0 361.21 176.34L356.46 175.07A24.60 24.60 0 0 1 355.82 177.11Z" fill="#f0f000" stroke="#f0f000" stroke-width="0.5"/><path d="M415.92 198.99L420.54 200.67A93.48 93.48 0 0 0 422.99 192.89L418.24 191.62A88.56 88.56 0 0 1 415.92 198.99Z" fill="#0090ff" stroke="#0090ff" stroke-width="0.5"/><path d="M420.54 200.67L425.17 202.35A98.40 98.40 0 0 0 427.75 194.17L422.99 192.89A93.48 93.48 0 0 1 420.54 200.67Z" fill="#0090ff" stroke="#0090ff" stroke-width="0.5"/><path d="M355.00 179.10L359.45 181.18A29.52 29.52 0 0 0 360.44 178.80L355.82 177.11A24.60 24.60 0 0 1 355.00 179.10Z" fill="#0040ff" stroke="#0040ff" stroke-width="0.5"/><path d="M412.96 206.13L417.42 208.21A93.48 93.48 0 0 0 420.54 200.67L415.92 198.99A88.56 88.56 0 0 1 412.96 206.13Z" fill="#0030f0" stroke="#0030f0" stroke-width="0.5"/><path d="M417.42 208.21L421.88 210.29A98.40 98.40 0 0 0 425.17 202.35L420.54 200.67A93.48 93.48 0 0 1 417.42 208.21Z" fill="#00b0ff" stroke="#00b0ff" stroke-width="0.5"/><path d="M354.00 181.00L358.27 183.46A29.52 29.52 0 0 0 359.45 181.18L355.00 179.10A24.60 24.60 0 0 1 354.00 181.00Z" fill="#0040ff" stroke="#0040ff" stroke-width="0.5"/><path d="M405.13 210.52L409.40 212.98A88.56 88.56 0 0 0 412.96 206.13L408.50 204.05A83.64 83.64 0 0 1 405.13 210.52Z" fill="#20e0f0" stroke="#20e0f0" stroke-width="0.5"/><path d="M409.40 212.98L413.66 215.44A93.48 93.48 0 0 0 417.42 208.21L412.96 206.13A88.56 88.56 0 0 1 409.40 212.98Z" fill="#40f0b0" stroke="#40f0b0" stroke-width="0.5"/><path d="M352.85 182.81L356.88 185.63A29.52 29.52 0 0 0 358.27 183.46L354.00 181.00A24.60 24.60 0 0 1 352.85 182.81Z" fill="#0030f0" stroke="#0030f0" stroke-width="0.5"/><path d="M397.18 213.85L401.21 216.67A83.64 83.64 0 0 0 405.13 210.52L400.87 208.06A78.72 78.72 0 0 1 397.18 213.85Z" fill="#20e0f0" stroke="#20e0f0" stroke-width="0.5"/><path d="M401.21 216.67L405.24 219.50A88.56 88.56 0 0 0 409.40 212.98L405.13 210.52A83.64 83.64 0 0 1 401.21 216.67Z" fill="#70f090" stroke="#70f090" stroke-width="0.5"/><path d="M351.54 184.51L355.31 187.68A29.52 29.52 0 0 0 356.88 185.63L352.85 182.81A24.60 24.60 0 0 1 351.54 184.51Z" fill="#0040ff" stroke="#0040ff" stroke-width="0.5"/><path d="M389.23 216.14L393.00 219.30A78.72 78.72 0 0 0 397.18 213.85L393.15 211.03A73.80 73.80 0 0 1 389.23 216.14Z" fill="#b0ff50" stroke="#b0ff50" stroke-width="0.5"/><path d="M393.00 219.30L396.77 222.46A83.64 83.64 0 0 0 401.21 216.67L397.18 213.85A78.72 78.72 0 0 1 393.00 219.30Z" fill="#0000d0" stroke="#0000d0" stroke-width="0.5"/><path d="M350.09 186.09L353.57 189.57A29.52 29.52 0 0 0 355.31 187.68L351.54 184.51A24.60 24.60 0 0 1 350.09 186.09Z" fill="#0010f0" stroke="#0010f0" stroke-width="0.5"/><path d="M381.41 217.41L384.88 220.88A73.80 73.80 0 0 0 389.23 216.14L385.47 212.98A68.88 68.88 0 0 1 381.41 217.41Z" fill="#e0f020" stroke="#e0f020" stroke-width="0.5"/><path d="M384.88 220.88L388.36 224.36A78.72 78.72 0 0 0 393.00 219.30L389.23 216.14A73.80 73.80 0 0 1 384.88 220.88Z" fill="#90f060" stroke="#90f060" stroke-width="0.5"/><path d="M348.51 187.54L351.68 191.31A29.52 29.52 0 0 0 353.57 189.57L350.09 186.09A24.60 24.60 0 0 1 348.51 187.54Z" fill="#00b0ff" stroke="#00b0ff" stroke-width="0.5"/><path d="M373.81 217.70L376.98 221.47A68.88 68.88 0 0 0 381.41 217.41L377.93 213.93A63.96 63.96 0 0 1 373.81 217.70Z" fill="#90f060" stroke="#90f060" stroke-width="0.5"/><path d="M376.98 221.47L380.14 225.23A73.80 73.80 0 0 0 384.88 220.88L381.41 217.41A68.88 68.88 0 0 1 376.98 221.47Z" fill="#90f060" stroke="#90f060" stroke-width="0.5"/><path d="M346.81 188.85L349.63 192.88A29.52 29.52 0 0 0 351.68 191.31L348.51 187.54A24.60 24.60 0 0 1 346.81 188.85Z" fill="#80f080" stroke="#80f080" stroke-width="0.5"/><path d="M349.63 192.88L352.45 196.91A34.44 34.44 0 0 0 354.84 195.08L351.68 191.31A29.52 29.52 0 0 1 349.63 192.88Z" fill="#00b0ff" stroke="#00b0ff" stroke-width="0.5"/><path d="M366.56 217.06L369.39 221.09A63.96 63.96 0 0 0 373.81 217.70L370.65 213.93A59.04 59.04 0 0 1 366.56 217.06Z" fill="#ffb000" stroke="#ffb000" stroke-width="0.5"/><path d="M369.39 221.09L372.21 225.12A68.88 68.88 0 0 0 376.98 221.47L373.81 217.70A63.96 63.96 0 0 1 369.39 221.09Z" fill="#ffb000" stroke="#ffb000" stroke-width="0.5"/><path d="M347.46 194.27L349.92 198.53A34.44 34.44 0 0 0 352.45 196.91L349.63 192.88A29.52 29.52 0 0 1 347.46 194.27Z" fill="#40f0c0" stroke="#40f0c0" stroke-width="0.5"/><path d="M359.76 215.57L362.22 219.83A59.04 59.04 0 0 0 366.56 217.06L363.74 213.03A54.12 54.12 0 0 1 359.76 215.57Z" fill="#b0ff40" stroke="#b0ff40" stroke-width="0.5"/><path d="M362.22 219.83L364.68 224.09A63.96 63.96 0 0 0 369.39 221.09L366.56 217.06A59.04 59.04 0 0 1 362.22 219.83Z" fill="#c0ff40" stroke="#c0ff40" stroke-width="0.5"/><path d="M345.18 195.45L347.25 199.91A34.44 34.44 0 0 0 349.92 198.53L347.46 194.27A29.52 29.52 0 0 1 345.18 195.45Z" fill="#10e0f0" stroke="#10e0f0" stroke-width="0.5"/><path d="M355.57 217.75L357.65 222.21A59.04 59.04 0 0 0 362.22 219.83L359.76 215.57A54.12 54.12 0 0 1 355.57 217.75Z" fill="#c0ff40" stroke="#c0ff40" stroke-width="0.5"/><path d="M357.65 222.21L359.73 226.67A63.96 63.96 0 0 0 364.68 224.09L362.22 219.83A59.04 59.04 0 0 1 357.65 222.21Z" fill="#90f070" stroke="#90f070" stroke-width="0.5"/><path d="M342.80 196.44L344.48 201.06A34.44 34.44 0 0 0 347.25 199.91L345.18 195.45A29.52 29.52 0 0 1 342.80 196.44Z" fill="#70f090" stroke="#70f090" stroke-width="0.5"/><path d="M344.48 201.06L346.16 205.69A39.36 39.36 0 0 0 349.33 204.37L347.25 199.91A34.44 34.44 0 0 1 344.48 201.06Z" fill="#40f0c0" stroke="#40f0c0" stroke-width="0.5"/><path d="M349.53 214.93L351.21 219.56A54.12 54.12 0 0 0 355.57 217.75L353.49 213.29A49.20 49.20 0 0 1 349.53 214.93Z" fill="#70f090" stroke="#70f090" stroke-width="0.5"/><path d="M351.21 219.56L352.89 224.18A59.04 59.04 0 0 0 357.65 222.21L355.57 217.75A54.12 54.12 0 0 1 351.21 219.56Z" fill="#20e0d0" stroke="#20e0d0" stroke-width="0.5"/><path d="M341.61 201.97L342.89 206.72A39.36 39.36 0 0 0 346.16 205.69L344.48 201.06A34.44 34.44 0 0 1 341.61 201.97Z" fill="#40f0c0" stroke="#40f0c0" stroke-width="0.5"/><path d="M344.16 211.47L345.43 216.22A49.20 49.20 0 0 0 349.53 214.93L347.84 210.31A44.28 44.28 0 0 1 344.16 211.47Z" fill="#0030f0" stroke="#0030f0" stroke-width="0.5"/><path d="M345.43 216.22L346.71 220.98A54.12 54.12 0 0 0 351.21 219.56L349.53 214.93A49.20 49.20 0 0 1 345.43 216.22Z" fill="#90f070" stroke="#90f070" stroke-width="0.5"/><path d="M338.68 202.62L339.53 207.46A39.36 39.36 0 0 0 342.89 206.72L341.61 201.97A34.44 34.44 0 0 1 338.68 202.62Z" fill="#40f0c0" stroke="#40f0c0" stroke-width="0.5"/><path d="M339.53 207.46L340.39 212.31A44.28 44.28 0 0 0 344.16 211.47L342.89 206.72A39.36 39.36 0 0 1 339.53 207.46Z" fill="#60f0a0" stroke="#60f0a0" stroke-width="0.5"/><path d="M340.39 212.31L341.24 217.15A49.20 49.20 0 0 0 345.43 216.22L344.16 211.47A44.28 44.28 0 0 1 340.39 212.31Z" fill="#90ff70" stroke="#90ff70" stroke-width="0.5"/><path d="M336.13 207.91L336.56 212.81A44.28 44.28 0 0 0 340.39 212.31L339.53 207.46A39.36 39.36 0 0 1 336.13 207.91Z" fill="#b0ff40" stroke="#b0ff40" stroke-width="0.5"/></g>
<path d="M332.70 61.30 A107.40 107.40 0 0 1 332.70 276.10 Z" fill="none" stroke="#000" stroke-width="1.6"/>
<text x="379.91" y="47.93" text-anchor="middle" font-size="20.5">70°</text>
<text x="420.82" y="71.55" text-anchor="middle" font-size="20.5">50°</text>
<text x="451.18" y="107.73" text-anchor="middle" font-size="20.5">30°</text>
<text x="467.33" y="152.11" text-anchor="middle" font-size="20.5">10°</text>
<text x="467.33" y="199.35" text-anchor="middle" font-size="20.5">-10°</text>
<text x="451.18" y="243.73" text-anchor="middle" font-size="20.5">-30°</text>
<text x="420.82" y="279.91" text-anchor="middle" font-size="20.5">-50°</text>
<text x="379.91" y="303.53" text-anchor="middle" font-size="20.5">-70°</text>
<text x="333.40" y="311.73" text-anchor="middle" font-size="20.5">-90°</text>
<text x="312.50" y="175.10" text-anchor="middle" font-size="20.5">0</text>
<text x="312.50" y="211.60" text-anchor="middle" font-size="20.5">2</text>
<text x="312.50" y="248.10" text-anchor="middle" font-size="20.5">4</text>
<text x="386.50" y="18.5" text-anchor="middle" font-size="24.6">Pearson coefficient</text>
<g><path d="M590.60 205.20 A36.50 36.50 0 0 0 590.60 132.20" fill="none" stroke="#cccccc" stroke-width="1.6" stroke-dasharray="6.05 2.6"/><path d="M590.60 241.70 A73.00 73.00 0 0 0 590.60 95.70" fill="none" stroke="#cccccc" stroke-width="1.6" stroke-dasharray="6.05 2.6"/><line x1="590.60" y1="168.70" x2="627.33" y2="67.78" stroke="#cccccc" stroke-width="1.6" stroke-dasharray="6.05 2.6"/><line x1="590.60" y1="168.70" x2="659.64" y2="86.43" stroke="#cccccc" stroke-width="1.6" stroke-dasharray="6.05 2.6"/><line x1="590.60" y1="168.70" x2="683.61" y2="115.00" stroke="#cccccc" stroke-width="1.6" stroke-dasharray="6.05 2.6"/><line x1="590.60" y1="168.70" x2="696.37" y2="150.05" stroke="#cccccc" stroke-width="1.6" stroke-dasharray="6.05 2.6"/><line x1="590.60" y1="168.70" x2="696.37" y2="187.35" stroke="#cccccc" stroke-width="1.6" stroke-dasharray="6.05 2.6"/><line x1="590.60" y1="168.70" x2="683.61" y2="222.40" stroke="#cccccc" stroke-width="1.6" stroke-dasharray="6.05 2.6"/><line x1="590.60" y1="168.70" x2="659.64" y2="250.97" stroke="#cccccc" stroke-width="1.6" stroke-dasharray="6.05 2.6"/><line x1="590.60" y1="168.70" x2="627.33" y2="269.62" stroke="#cccccc" stroke-width="1.6" stroke-dasharray="6.05 2.6"/></g>
<g><path d="M596.58 134.78L597.43 129.94A39.36 39.36 0 0 0 594.03 129.49L593.60 134.39A34.44 34.44 0 0 1 596.58 134.78Z" fill="#b0f050" stroke="#b0f050" stroke-width="0.5"/><path d="M598.24 140.19L599.51 135.43A34.44 34.44 0 0 0 596.58 134.78L595.73 139.63A29.52 29.52 0 0 1 598.24 140.19Z" fill="#40f0b0" stroke="#40f0b0" stroke-width="0.5"/><path d="M599.51 135.43L600.79 130.68A39.36 39.36 0 0 0 597.43 129.94L596.58 134.78A34.44 34.44 0 0 1 599.51 135.43Z" fill="#80f080" stroke="#80f080" stroke-width="0.5"/><path d="M600.79 130.68L602.06 125.93A44.28 44.28 0 0 0 598.29 125.09L597.43 129.94A39.36 39.36 0 0 1 600.79 130.68Z" fill="#c0f040" stroke="#c0f040" stroke-width="0.5"/><path d="M600.70 140.96L602.38 136.34A34.44 34.44 0 0 0 599.51 135.43L598.24 140.19A29.52 29.52 0 0 1 600.70 140.96Z" fill="#40f0b0" stroke="#40f0b0" stroke-width="0.5"/><path d="M604.06 131.71L605.74 127.09A44.28 44.28 0 0 0 602.06 125.93L600.79 130.68A39.36 39.36 0 0 1 604.06 131.71Z" fill="#c0f040" stroke="#c0f040" stroke-width="0.5"/><path d="M605.74 127.09L607.43 122.47A49.20 49.20 0 0 0 603.33 121.18L602.06 125.93A44.28 44.28 0 0 1 605.74 127.09Z" fill="#c0f040" stroke="#c0f040" stroke-width="0.5"/><path d="M603.08 141.95L605.15 137.49A34.44 34.44 0 0 0 602.38 136.34L600.70 140.96A29.52 29.52 0 0 1 603.08 141.95Z" fill="#40f0b0" stroke="#40f0b0" stroke-width="0.5"/><path d="M609.31 128.57L611.39 124.11A49.20 49.20 0 0 0 607.43 122.47L605.74 127.09A44.28 44.28 0 0 1 609.31 128.57Z" fill="#d0f030" stroke="#d0f030" stroke-width="0.5"/><path d="M611.39 124.11L613.47 119.65A54.12 54.12 0 0 0 609.11 117.84L607.43 122.47A49.20 49.20 0 0 1 611.39 124.11Z" fill="#c0f040" stroke="#c0f040" stroke-width="0.5"/><path d="M602.90 147.40L605.36 143.13A29.52 29.52 0 0 0 603.08 141.95L601.00 146.40A24.60 24.60 0 0 1 602.90 147.40Z" fill="#30f0c0" stroke="#30f0c0" stroke-width="0.5"/><path d="M605.36 143.13L607.82 138.87A34.44 34.44 0 0 0 605.15 137.49L603.08 141.95A29.52 29.52 0 0 1 605.36 143.13Z" fill="#40f0b0" stroke="#40f0b0" stroke-width="0.5"/><path d="M612.74 130.35L615.20 126.09A49.20 49.20 0 0 0 611.39 124.11L609.31 128.57A44.28 44.28 0 0 1 612.74 130.35Z" fill="#a0f050" stroke="#a0f050" stroke-width="0.5"/><path d="M615.20 126.09L617.66 121.83A54.12 54.12 0 0 0 613.47 119.65L611.39 124.11A49.20 49.20 0 0 1 615.20 126.09Z" fill="#c0f040" stroke="#c0f040" stroke-width="0.5"/><path d="M604.71 148.55L607.53 144.52A29.52 29.52 0 0 0 605.36 143.13L602.90 147.40A24.60 24.60 0 0 1 604.71 148.55Z" fill="#40f0b0" stroke="#40f0b0" stroke-width="0.5"/><path d="M618.82 128.40L621.64 124.37A54.12 54.12 0 0 0 617.66 121.83L615.20 126.09A49.20 49.20 0 0 1 618.82 128.40Z" fill="#a0f060" stroke="#a0f060" stroke-width="0.5"/><path d="M621.64 124.37L624.46 120.34A59.04 59.04 0 0 0 620.12 117.57L617.66 121.83A54.12 54.12 0 0 1 621.64 124.37Z" fill="#a0f060" stroke="#a0f060" stroke-width="0.5"/><path d="M606.41 149.86L609.58 146.09A29.52 29.52 0 0 0 607.53 144.52L604.71 148.55A24.60 24.60 0 0 1 606.41 149.86Z" fill="#40f0b0" stroke="#40f0b0" stroke-width="0.5"/><path d="M625.39 127.24L628.55 123.47A59.04 59.04 0 0 0 624.46 120.34L621.64 124.37A54.12 54.12 0 0 1 625.39 127.24Z" fill="#ffc000" stroke="#ffc000" stroke-width="0.5"/><path d="M628.55 123.47L631.71 119.70A63.96 63.96 0 0 0 627.29 116.31L624.46 120.34A59.04 59.04 0 0 1 628.55 123.47Z" fill="#ff8000" stroke="#ff8000" stroke-width="0.5"/><path d="M607.99 151.31L611.47 147.83A29.52 29.52 0 0 0 609.58 146.09L606.41 149.86A24.60 24.60 0 0 1 607.99 151.31Z" fill="#70f090" stroke="#70f090" stroke-width="0.5"/><path d="M632.35 126.95L635.83 123.47A63.96 63.96 0 0 0 631.71 119.70L628.55 123.47A59.04 59.04 0 0 1 632.35 126.95Z" fill="#ffb000" stroke="#ffb000" stroke-width="0.5"/><path d="M635.83 123.47L639.31 119.99A68.88 68.88 0 0 0 634.88 115.93L631.71 119.70A63.96 63.96 0 0 1 635.83 123.47Z" fill="#ffa000" stroke="#ffa000" stroke-width="0.5"/><path d="M609.44 152.89L613.21 149.72A29.52 29.52 0 0 0 611.47 147.83L607.99 151.31A24.60 24.60 0 0 1 609.44 152.89Z" fill="#50f0a0" stroke="#50f0a0" stroke-width="0.5"/><path d="M635.83 130.75L639.60 127.59A63.96 63.96 0 0 0 635.83 123.47L632.35 126.95A59.04 59.04 0 0 1 635.83 130.75Z" fill="#ffb000" stroke="#ffb000" stroke-width="0.5"/><path d="M639.60 127.59L643.37 124.42A68.88 68.88 0 0 0 639.31 119.99L635.83 123.47A63.96 63.96 0 0 1 639.60 127.59Z" fill="#ff8000" stroke="#ff8000" stroke-width="0.5"/><path d="M610.75 154.59L614.78 151.77A29.52 29.52 0 0 0 613.21 149.72L609.44 152.89A24.60 24.60 0 0 1 610.75 154.59Z" fill="#50f0a0" stroke="#50f0a0" stroke-width="0.5"/><path d="M642.99 132.01L647.02 129.19A68.88 68.88 0 0 0 643.37 124.42L639.60 127.59A63.96 63.96 0 0 1 642.99 132.01Z" fill="#ff7000" stroke="#ff7000" stroke-width="0.5"/><path d="M647.02 129.19L651.05 126.37A73.80 73.80 0 0 0 647.13 121.26L643.37 124.42A68.88 68.88 0 0 1 647.02 129.19Z" fill="#ff5000" stroke="#ff5000" stroke-width="0.5"/><path d="M611.90 156.40L616.17 153.94A29.52 29.52 0 0 0 614.78 151.77L610.75 154.59A24.60 24.60 0 0 1 611.90 156.40Z" fill="#50f0a0" stroke="#50f0a0" stroke-width="0.5"/><path d="M650.25 134.26L654.51 131.80A73.80 73.80 0 0 0 651.05 126.37L647.02 129.19A68.88 68.88 0 0 1 650.25 134.26Z" fill="#ff6000" stroke="#ff6000" stroke-width="0.5"/><path d="M654.51 131.80L658.77 129.34A78.72 78.72 0 0 0 655.08 123.55L651.05 126.37A73.80 73.80 0 0 1 654.51 131.80Z" fill="#ff3000" stroke="#ff3000" stroke-width="0.5"/><path d="M612.90 158.30L617.35 156.22A29.52 29.52 0 0 0 616.17 153.94L611.90 156.40A24.60 24.60 0 0 1 612.90 158.30Z" fill="#50f0a0" stroke="#50f0a0" stroke-width="0.5"/><path d="M657.49 137.51L661.94 135.43A78.72 78.72 0 0 0 658.77 129.34L654.51 131.80A73.80 73.80 0 0 1 657.49 137.51Z" fill="#ff6000" stroke="#ff6000" stroke-width="0.5"/><path d="M661.94 135.43L666.40 133.35A83.64 83.64 0 0 0 663.03 126.88L658.77 129.34A78.72 78.72 0 0 1 661.94 135.43Z" fill="#ff6000" stroke="#ff6000" stroke-width="0.5"/><path d="M609.09 161.97L613.72 160.29A24.60 24.60 0 0 0 612.90 158.30L608.44 160.38A19.68 19.68 0 0 1 609.09 161.97Z" fill="#90f070" stroke="#90f070" stroke-width="0.5"/><path d="M664.57 141.78L669.20 140.09A83.64 83.64 0 0 0 666.40 133.35L661.94 135.43A78.72 78.72 0 0 1 664.57 141.78Z" fill="#ff5000" stroke="#ff5000" stroke-width="0.5"/><path d="M669.20 140.09L673.82 138.41A88.56 88.56 0 0 0 670.86 131.27L666.40 133.35A83.64 83.64 0 0 1 669.20 140.09Z" fill="#f02000" stroke="#f02000" stroke-width="0.5"/><path d="M609.61 163.61L614.36 162.33A24.60 24.60 0 0 0 613.72 160.29L609.09 161.97A19.68 19.68 0 0 1 609.61 163.61Z" fill="#f0e000" stroke="#f0e000" stroke-width="0.5"/><path d="M671.39 147.05L676.14 145.78A88.56 88.56 0 0 0 673.82 138.41L669.20 140.09A83.64 83.64 0 0 1 671.39 147.05Z" fill="#ff1000" stroke="#ff1000" stroke-width="0.5"/><path d="M676.14 145.78L680.89 144.51A93.48 93.48 0 0 0 678.44 136.73L673.82 138.41A88.56 88.56 0 0 1 676.14 145.78Z" fill="#f01000" stroke="#f01000" stroke-width="0.5"/><path d="M609.98 165.28L614.83 164.43A24.60 24.60 0 0 0 614.36 162.33L609.61 163.61A19.68 19.68 0 0 1 609.98 165.28Z" fill="#ffc000" stroke="#ffc000" stroke-width="0.5"/><path d="M672.97 154.18L677.81 153.32A88.56 88.56 0 0 0 676.14 145.78L671.39 147.05A83.64 83.64 0 0 1 672.97 154.18Z" fill="#ff1000" stroke="#ff1000" stroke-width="0.5"/><path d="M677.81 153.32L682.66 152.47A93.48 93.48 0 0 0 680.89 144.51L676.14 145.78A88.56 88.56 0 0 1 677.81 153.32Z" fill="#ff1000" stroke="#ff1000" stroke-width="0.5"/><path d="M610.21 166.98L615.11 166.56A24.60 24.60 0 0 0 614.83 164.43L609.98 165.28A19.68 19.68 0 0 1 610.21 166.98Z" fill="#ffc000" stroke="#ffc000" stroke-width="0.5"/><path d="M678.82 160.98L683.72 160.55A93.48 93.48 0 0 0 682.66 152.47L677.81 153.32A88.56 88.56 0 0 1 678.82 160.98Z" fill="#800000" stroke="#800000" stroke-width="0.5"/><path d="M683.72 160.55L688.63 160.12A98.40 98.40 0 0 0 687.51 151.61L682.66 152.47A93.48 93.48 0 0 1 683.72 160.55Z" fill="#e00000" stroke="#e00000" stroke-width="0.5"/><path d="M610.28 168.70L615.20 168.70A24.60 24.60 0 0 0 615.11 166.56L610.21 166.98A19.68 19.68 0 0 1 610.28 168.70Z" fill="#b0f050" stroke="#b0f050" stroke-width="0.5"/><path d="M679.16 168.70L684.08 168.70A93.48 93.48 0 0 0 683.72 160.55L678.82 160.98A88.56 88.56 0 0 1 679.16 168.70Z" fill="#e00000" stroke="#e00000" stroke-width="0.5"/><path d="M684.08 168.70L689.00 168.70A98.40 98.40 0 0 0 688.63 160.12L683.72 160.55A93.48 93.48 0 0 1 684.08 168.70Z" fill="#f00000" stroke="#f00000" stroke-width="0.5"/><path d="M610.21 170.42L615.11 170.84A24.60 24.60 0 0 0 615.20 168.70L610.28 168.70A19.68 19.68 0 0 1 610.21 170.42Z" fill="#ffb000" stroke="#ffb000" stroke-width="0.5"/><path d="M615.11 170.84L620.01 171.27A29.52 29.52 0 0 0 620.12 168.70L615.20 168.70A24.60 24.60 0 0 1 615.11 170.84Z" fill="#000090" stroke="#000090" stroke-width="0.5"/><path d="M620.01 171.27L624.91 171.70A34.44 34.44 0 0 0 625.04 168.70L620.12 168.70A29.52 29.52 0 0 1 620.01 171.27Z" fill="#000090" stroke="#000090" stroke-width="0.5"/><path d="M683.72 176.85L688.63 177.28A98.40 98.40 0 0 0 689.00 168.70L684.08 168.70A93.48 93.48 0 0 1 683.72 176.85Z" fill="#f01000" stroke="#f01000" stroke-width="0.5"/><path d="M688.63 177.28L693.53 177.70A103.32 103.32 0 0 0 693.92 168.70L689.00 168.70A98.40 98.40 0 0 1 688.63 177.28Z" fill="#c00000" stroke="#c00000" stroke-width="0.5"/><path d="M609.98 172.12L614.83 172.97A24.60 24.60 0 0 0 615.11 170.84L610.21 170.42A19.68 19.68 0 0 1 609.98 172.12Z" fill="#ffb000" stroke="#ffb000" stroke-width="0.5"/><path d="M677.81 184.08L682.66 184.93A93.48 93.48 0 0 0 683.72 176.85L678.82 176.42A88.56 88.56 0 0 1 677.81 184.08Z" fill="#ff5000" stroke="#ff5000" stroke-width="0.5"/><path d="M682.66 184.93L687.51 185.79A98.40 98.40 0 0 0 688.63 177.28L683.72 176.85A93.48 93.48 0 0 1 682.66 184.93Z" fill="#ff4000" stroke="#ff4000" stroke-width="0.5"/><path d="M687.51 185.79L692.35 186.64A103.32 103.32 0 0 0 693.53 177.70L688.63 177.28A98.40 98.40 0 0 1 687.51 185.79Z" fill="#ff3000" stroke="#ff3000" stroke-width="0.5"/><path d="M609.61 173.79L614.36 175.07A24.60 24.60 0 0 0 614.83 172.97L609.98 172.12A19.68 19.68 0 0 1 609.61 173.79Z" fill="#ffb000" stroke="#ffb000" stroke-width="0.5"/><path d="M680.89 192.89L685.65 194.17A98.40 98.40 0 0 0 687.51 185.79L682.66 184.93A93.48 93.48 0 0 1 680.89 192.89Z" fill="#ff1000" stroke="#ff1000" stroke-width="0.5"/><path d="M685.65 194.17L690.40 195.44A103.32 103.32 0 0 0 692.35 186.64L687.51 185.79A98.40 98.40 0 0 1 685.65 194.17Z" fill="#ff5000" stroke="#ff5000" stroke-width="0.5"/><path d="M609.09 175.43L613.72 177.11A24.60 24.60 0 0 0 614.36 175.07L609.61 173.79A19.68 19.68 0 0 1 609.09 175.43Z" fill="#ff0000" stroke="#ff0000" stroke-width="0.5"/><path d="M613.72 177.11L618.34 178.80A29.52 29.52 0 0 0 619.11 176.34L614.36 175.07A24.60 24.60 0 0 1 613.72 177.11Z" fill="#90f070" stroke="#90f070" stroke-width="0.5"/><path d="M673.82 198.99L678.44 200.67A93.48 93.48 0 0 0 680.89 192.89L676.14 191.62A88.56 88.56 0 0 1 673.82 198.99Z" fill="#ff1000" stroke="#ff1000" stroke-width="0.5"/><path d="M678.44 200.67L683.07 202.35A98.40 98.40 0 0 0 685.65 194.17L680.89 192.89A93.48 93.48 0 0 1 678.44 200.67Z" fill="#f00800" stroke="#f00800" stroke-width="0.5"/><path d="M612.90 179.10L617.35 181.18A29.52 29.52 0 0 0 618.34 178.80L613.72 177.11A24.60 24.60 0 0 1 612.90 179.10Z" fill="#f0f000" stroke="#f0f000" stroke-width="0.5"/><path d="M670.86 206.13L675.32 208.21A93.48 93.48 0 0 0 678.44 200.67L673.82 198.99A88.56 88.56 0 0 1 670.86 206.13Z" fill="#d00000" stroke="#d00000" stroke-width="0.5"/><path d="M675.32 208.21L679.78 210.29A98.40 98.40 0 0 0 683.07 202.35L678.44 200.67A93.48 93.48 0 0 1 675.32 208.21Z" fill="#ff5000" stroke="#ff5000" stroke-width="0.5"/><path d="M611.90 181.00L616.17 183.46A29.52 29.52 0 0 0 617.35 181.18L612.90 179.10A24.60 24.60 0 0 1 611.90 181.00Z" fill="#c0f040" stroke="#c0f040" stroke-width="0.5"/><path d="M663.03 210.52L667.30 212.98A88.56 88.56 0 0 0 670.86 206.13L666.40 204.05A83.64 83.64 0 0 1 663.03 210.52Z" fill="#f00800" stroke="#f00800" stroke-width="0.5"/><path d="M667.30 212.98L671.56 215.44A93.48 93.48 0 0 0 675.32 208.21L670.86 206.13A88.56 88.56 0 0 1 667.30 212.98Z" fill="#ff4000" stroke="#ff4000" stroke-width="0.5"/><path d="M610.75 182.81L614.78 185.63A29.52 29.52 0 0 0 616.17 183.46L611.90 181.00A24.60 24.60 0 0 1 610.75 182.81Z" fill="#c0f040" stroke="#c0f040" stroke-width="0.5"/><path d="M655.08 213.85L659.11 216.67A83.64 83.64 0 0 0 663.03 210.52L658.77 208.06A78.72 78.72 0 0 1 655.08 213.85Z" fill="#ff4000" stroke="#ff4000" stroke-width="0.5"/><path d="M659.11 216.67L663.14 219.50A88.56 88.56 0 0 0 667.30 212.98L663.03 210.52A83.64 83.64 0 0 1 659.11 216.67Z" fill="#ff4000" stroke="#ff4000" stroke-width="0.5"/><path d="M609.44 184.51L613.21 187.68A29.52 29.52 0 0 0 614.78 185.63L610.75 182.81A24.60 24.60 0 0 1 609.44 184.51Z" fill="#90f070" stroke="#90f070" stroke-width="0.5"/><path d="M647.13 216.14L650.90 219.30A78.72 78.72 0 0 0 655.08 213.85L651.05 211.03A73.80 73.80 0 0 1 647.13 216.14Z" fill="#ff7000" stroke="#ff7000" stroke-width="0.5"/><path d="M650.90 219.30L654.67 222.46A83.64 83.64 0 0 0 659.11 216.67L655.08 213.85A78.72 78.72 0 0 1 650.90 219.30Z" fill="#e01000" stroke="#e01000" stroke-width="0.5"/><path d="M607.99 186.09L611.47 189.57A29.52 29.52 0 0 0 613.21 187.68L609.44 184.51A24.60 24.60 0 0 1 607.99 186.09Z" fill="#80f080" stroke="#80f080" stroke-width="0.5"/><path d="M639.31 217.41L642.78 220.88A73.80 73.80 0 0 0 647.13 216.14L643.37 212.98A68.88 68.88 0 0 1 639.31 217.41Z" fill="#ff5000" stroke="#ff5000" stroke-width="0.5"/><path d="M642.78 220.88L646.26 224.36A78.72 78.72 0 0 0 650.90 219.30L647.13 216.14A73.80 73.80 0 0 1 642.78 220.88Z" fill="#ff4000" stroke="#ff4000" stroke-width="0.5"/><path d="M606.41 187.54L609.58 191.31A29.52 29.52 0 0 0 611.47 189.57L607.99 186.09A24.60 24.60 0 0 1 606.41 187.54Z" fill="#80f080" stroke="#80f080" stroke-width="0.5"/><path d="M631.71 217.70L634.88 221.47A68.88 68.88 0 0 0 639.31 217.41L635.83 213.93A63.96 63.96 0 0 1 631.71 217.70Z" fill="#ffc000" stroke="#ffc000" stroke-width="0.5"/><path d="M634.88 221.47L638.04 225.23A73.80 73.80 0 0 0 642.78 220.88L639.31 217.41A68.88 68.88 0 0 1 634.88 221.47Z" fill="#ffa000" stroke="#ffa000" stroke-width="0.5"/><path d="M638.04 225.23L641.20 229.00A78.72 78.72 0 0 0 646.26 224.36L642.78 220.88A73.80 73.80 0 0 1 638.04 225.23Z" fill="#ffa000" stroke="#ffa000" stroke-width="0.5"/><path d="M604.71 188.85L607.53 192.88A29.52 29.52 0 0 0 609.58 191.31L606.41 187.54A24.60 24.60 0 0 1 604.71 188.85Z" fill="#80f080" stroke="#80f080" stroke-width="0.5"/><path d="M607.53 192.88L610.35 196.91A34.44 34.44 0 0 0 612.74 195.08L609.58 191.31A29.52 29.52 0 0 1 607.53 192.88Z" fill="#90f070" stroke="#90f070" stroke-width="0.5"/><path d="M627.29 221.09L630.11 225.12A68.88 68.88 0 0 0 634.88 221.47L631.71 217.70A63.96 63.96 0 0 1 627.29 221.09Z" fill="#f0e000" stroke="#f0e000" stroke-width="0.5"/><path d="M630.11 225.12L632.93 229.15A73.80 73.80 0 0 0 638.04 225.23L634.88 221.47A68.88 68.88 0 0 1 630.11 225.12Z" fill="#f0f000" stroke="#f0f000" stroke-width="0.5"/><path d="M605.36 194.27L607.82 198.53A34.44 34.44 0 0 0 610.35 196.91L607.53 192.88A29.52 29.52 0 0 1 605.36 194.27Z" fill="#90f070" stroke="#90f070" stroke-width="0.5"/><path d="M620.12 219.83L622.58 224.09A63.96 63.96 0 0 0 627.29 221.09L624.46 217.06A59.04 59.04 0 0 1 620.12 219.83Z" fill="#ffb000" stroke="#ffb000" stroke-width="0.5"/><path d="M622.58 224.09L625.04 228.35A68.88 68.88 0 0 0 630.11 225.12L627.29 221.09A63.96 63.96 0 0 1 622.58 224.09Z" fill="#ffc000" stroke="#ffc000" stroke-width="0.5"/><path d="M603.08 195.45L605.15 199.91A34.44 34.44 0 0 0 607.82 198.53L605.36 194.27A29.52 29.52 0 0 1 603.08 195.45Z" fill="#90f070" stroke="#90f070" stroke-width="0.5"/><path d="M613.47 217.75L615.55 222.21A59.04 59.04 0 0 0 620.12 219.83L617.66 215.57A54.12 54.12 0 0 1 613.47 217.75Z" fill="#e0f020" stroke="#e0f020" stroke-width="0.5"/><path d="M615.55 222.21L617.63 226.67A63.96 63.96 0 0 0 622.58 224.09L620.12 219.83A59.04 59.04 0 0 1 615.55 222.21Z" fill="#f0e000" stroke="#f0e000" stroke-width="0.5"/><path d="M600.70 196.44L602.38 201.06A34.44 34.44 0 0 0 605.15 199.91L603.08 195.45A29.52 29.52 0 0 1 600.70 196.44Z" fill="#90f070" stroke="#90f070" stroke-width="0.5"/><path d="M602.38 201.06L604.06 205.69A39.36 39.36 0 0 0 607.23 204.37L605.15 199.91A34.44 34.44 0 0 1 602.38 201.06Z" fill="#90f070" stroke="#90f070" stroke-width="0.5"/><path d="M607.43 214.93L609.11 219.56A54.12 54.12 0 0 0 613.47 217.75L611.39 213.29A49.20 49.20 0 0 1 607.43 214.93Z" fill="#c0f040" stroke="#c0f040" stroke-width="0.5"/><path d="M609.11 219.56L610.79 224.18A59.04 59.04 0 0 0 615.55 222.21L613.47 217.75A54.12 54.12 0 0 1 609.11 219.56Z" fill="#c0f040" stroke="#c0f040" stroke-width="0.5"/><path d="M599.51 201.97L600.79 206.72A39.36 39.36 0 0 0 604.06 205.69L602.38 201.06A34.44 34.44 0 0 1 599.51 201.97Z" fill="#90f070" stroke="#90f070" stroke-width="0.5"/><path d="M602.06 211.47L603.33 216.22A49.20 49.20 0 0 0 607.43 214.93L605.74 210.31A44.28 44.28 0 0 1 602.06 211.47Z" fill="#ff5000" stroke="#ff5000" stroke-width="0.5"/><path d="M603.33 216.22L604.61 220.98A54.12 54.12 0 0 0 609.11 219.56L607.43 214.93A49.20 49.20 0 0 1 603.33 216.22Z" fill="#b0f050" stroke="#b0f050" stroke-width="0.5"/><path d="M596.58 202.62L597.43 207.46A39.36 39.36 0 0 0 600.79 206.72L599.51 201.97A34.44 34.44 0 0 1 596.58 202.62Z" fill="#80f080" stroke="#80f080" stroke-width="0.5"/><path d="M597.43 207.46L598.29 212.31A44.28 44.28 0 0 0 602.06 211.47L600.79 206.72A39.36 39.36 0 0 1 597.43 207.46Z" fill="#a0f060" stroke="#a0f060" stroke-width="0.5"/><path d="M598.29 212.31L599.14 217.15A49.20 49.20 0 0 0 603.33 216.22L602.06 211.47A44.28 44.28 0 0 1 598.29 212.31Z" fill="#a0f060" stroke="#a0f060" stroke-width="0.5"/><path d="M593.60 203.01L594.03 207.91A39.36 39.36 0 0 0 597.43 207.46L596.58 202.62A34.44 34.44 0 0 1 593.60 203.01Z" fill="#a0f060" stroke="#a0f060" stroke-width="0.5"/><path d="M594.03 207.91L594.46 212.81A44.28 44.28 0 0 0 598.29 212.31L597.43 207.46A39.36 39.36 0 0 1 594.03 207.91Z" fill="#b0f050" stroke="#b0f050" stroke-width="0.5"/></g>
<path d="M590.60 61.30 A107.40 107.40 0 0 1 590.60 276.10 Z" fill="none" stroke="#000" stroke-width="1.6"/>
<text x="637.81" y="47.93" text-anchor="middle" font-size="20.5">70°</text>
<text x="678.72" y="71.55" text-anchor="middle" font-size="20.5">50°</text>
<text x="709.08" y="107.73" text-anchor="middle" font-size="20.5">30°</text>
<text x="725.23" y="152.11" text-anchor="middle" font-size="20.5">10°</text>
<text x="725.23" y="199.35" text-anchor="middle" font-size="20.5">-10°</text>
<text x="709.08" y="243.73" text-anchor="middle" font-size="20.5">-30°</text>
<text x="678.72" y="279.91" text-anchor="middle" font-size="20.5">-50°</text>
<text x="637.81" y="303.53" text-anchor="middle" font-size="20.5">-70°</text>
<text x="591.30" y="311.73" text-anchor="middle" font-size="20.5">-90°</text>
<text x="570.40" y="175.10" text-anchor="middle" font-size="20.5">0</text>
<text x="570.40" y="211.60" text-anchor="middle" font-size="20.5">2</text>
<text x="570.40" y="248.10" text-anchor="middle" font-size="20.5">4</text>
<text x="644.50" y="18.5" text-anchor="middle" font-size="24.6">Residuals</text>
<rect x="21.50" y="327.6" width="214.60" height="10.2" fill="url(#jet)" stroke="#000" stroke-width="1.6"/>
<line x1="23.20" y1="338.6" x2="23.20" y2="345.6" stroke="#000" stroke-width="1.6"/>
<text x="23.20" y="368.8" text-anchor="middle" font-size="20.5">−2.0</text>
<line x1="103.90" y1="338.6" x2="103.90" y2="345.6" stroke="#000" stroke-width="1.6"/>
<text x="103.90" y="368.8" text-anchor="middle" font-size="20.5">−1.8</text>
<line x1="184.60" y1="338.6" x2="184.60" y2="345.6" stroke="#000" stroke-width="1.6"/>
<text x="184.60" y="368.8" text-anchor="middle" font-size="20.5">−1.6</text>
<text x="128.80" y="395.8" text-anchor="middle" font-size="20.5">log<tspan font-size="14.35" dy="4">10</tspan><tspan dy="-4">(mean value)</tspan></text>
<rect x="279.10" y="327.6" width="214.70" height="10.2" fill="url(#jet)" stroke="#000" stroke-width="1.6"/>
<line x1="339.00" y1="338.6" x2="339.00" y2="345.6" stroke="#000" stroke-width="1.6"/>
<text x="339.00" y="368.8" text-anchor="middle" font-size="20.5">−0.25</text>
<line x1="407.10" y1="338.6" x2="407.10" y2="345.6" stroke="#000" stroke-width="1.6"/>
<text x="407.10" y="368.8" text-anchor="middle" font-size="20.5">−0.20</text>
<line x1="475.10" y1="338.6" x2="475.10" y2="345.6" stroke="#000" stroke-width="1.6"/>
<text x="475.10" y="368.8" text-anchor="middle" font-size="20.5">−0.15</text>
<text x="386.45" y="395.8" text-anchor="middle" font-size="20.5">log<tspan font-size="14.35" dy="4">10</tspan><tspan dy="-4">(mean value)</tspan></text>
<rect x="536.90" y="327.6" width="214.50" height="10.2" fill="url(#jet)" stroke="#000" stroke-width="1.6"/>
<line x1="544.10" y1="338.6" x2="544.10" y2="345.6" stroke="#000" stroke-width="1.6"/>
<text x="544.10" y="368.8" text-anchor="middle" font-size="20.5">−2</text>
<line x1="674.70" y1="338.6" x2="674.70" y2="345.6" stroke="#000" stroke-width="1.6"/>
<text x="674.70" y="368.8" text-anchor="middle" font-size="20.5">−1</text>
<text x="644.15" y="395.8" text-anchor="middle" font-size="20.5">log<tspan font-size="14.35" dy="4">10</tspan><tspan dy="-4">(mean value)</tspan></text>
</svg></body></html>
